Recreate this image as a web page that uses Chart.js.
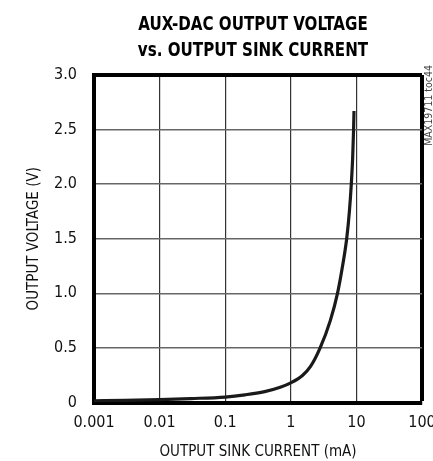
<!DOCTYPE html>
<html>
<head>
<meta charset="utf-8">
<script src="https://cdn.jsdelivr.net/npm/chart.js@4/dist/chart.umd.min.js"></script>
<style>
  html, body { margin: 0; padding: 0; background: #fff; }
  #wrap { width: 433px; height: 461px; position: relative; }
  #c { position: absolute; left: 0; top: 0; }
  .tl {
    position: absolute; left: 103px; width: 300px; height: 26px; line-height: 26px;
    text-align: center; white-space: nowrap;
    font-family: "DejaVu Sans Condensed", "Liberation Sans Narrow", sans-serif;
    font-weight: bold; font-size: 20px; color: #000;
    transform: scaleX(0.84); transform-origin: 50% 50%;
  }
</style>
</head>
<body>
<div id="wrap">
  <canvas id="c" width="433" height="461"></canvas>
  <div class="tl" id="t1" style="top:9.5px"></div>
  <div class="tl" id="t2" style="top:35.5px"></div>
</div>
<script>
// ---- data ----
const titleLines = ['AUX-DAC OUTPUT VOLTAGE', 'vs. OUTPUT SINK CURRENT'];
const xAxisTitle = 'OUTPUT SINK CURRENT (mA)';
const yAxisTitle = 'OUTPUT VOLTAGE (V)';
const sideNote = 'MAX19711 toc44';

const sinkCurrent_mA = [0.001, 0.003, 0.01, 0.03, 0.1, 0.2, 0.4, 0.69, 1, 1.52, 2, 2.8, 4.0, 5.15, 6.15, 7.11, 7.82, 8.36, 8.78, 9.06, 9.19];
const outputVoltage_V = [0.015, 0.02, 0.027, 0.036, 0.05, 0.07, 0.1, 0.14, 0.18, 0.25, 0.33, 0.5, 0.75, 1.0, 1.25, 1.5, 1.75, 2.0, 2.25, 2.5, 2.67];

const xTickValues = [0.001, 0.01, 0.1, 1, 10, 100];
const xTickLabels = ['0.001', '0.01', '0.1', '1', '10', '100'];
const yTickValues = [0, 0.5, 1.0, 1.5, 2.0, 2.5, 3.0];
const yTickLabels = ['0', '0.5', '1.0', '1.5', '2.0', '2.5', '3.0'];

document.getElementById('t1').textContent = titleLines[0];
document.getElementById('t2').textContent = titleLines[1];

const FONT = '"DejaVu Sans Condensed", "Liberation Sans Narrow", sans-serif';

const points = sinkCurrent_mA.map((x, i) => ({ x: x, y: outputVoltage_V[i] }));

const sideNotePlugin = {
  id: 'sideNote',
  afterDraw(chart) {
    const ctx = chart.ctx;
    ctx.save();
    ctx.translate(429.5, 65);
    ctx.rotate(-Math.PI / 2);
    ctx.font = '10.5px ' + FONT;
    ctx.fillStyle = '#444';
    ctx.textAlign = 'right';
    ctx.textBaseline = 'middle';
    ctx.fillText(sideNote, 0, 0);
    ctx.restore();
  }
};

new Chart(document.getElementById('c'), {
  type: 'line',
  data: {
    datasets: [{
      data: points,
      borderColor: '#1a1a1a',
      borderWidth: 3.2,
      pointRadius: 0,
      fill: false,
      cubicInterpolationMode: 'monotone'
    }]
  },
  options: {
    responsive: false,
    animation: false,
    events: [],
    layout: { padding: { left: 0, right: 11, top: 75, bottom: 0 } },
    plugins: {
      legend: { display: false },
      tooltip: { enabled: false },
      title: { display: false }
    },
    scales: {
      x: {
        type: 'logarithmic',
        min: 0.001,
        max: 100,
        afterBuildTicks(scale) { scale.ticks = xTickValues.map(v => ({ value: v })); },
        afterFit(scale) { scale.height = 58.5; scale.paddingLeft = 0; scale.paddingRight = 0; },
        ticks: {
          autoSkip: false,
          maxRotation: 0,
          color: '#111',
          padding: 11,
          font: { family: FONT, size: 16 },
          callback: (v, i) => xTickLabels[i]
        },
        grid: {
          drawTicks: false,
          color: (c) => (c.index === xTickValues.length - 1 ? '#000' : '#333'),
          lineWidth: (c) => (c.index === xTickValues.length - 1 ? 4 : 1.2)
        },
        border: { display: true, color: '#000', width: 4 },
        title: {
          display: true,
          text: xAxisTitle,
          color: '#111',
          font: { family: FONT, size: 15, lineHeight: 1.2 },
          padding: { top: 0, bottom: 0 }
        }
      },
      y: {
        type: 'linear',
        min: 0,
        max: 3,
        afterBuildTicks(scale) { scale.ticks = yTickValues.map(v => ({ value: v })); },
        afterFit(scale) { scale.width = 94; },
        ticks: {
          color: '#111',
          padding: 17,
          font: { family: FONT, size: 16 },
          callback: (v, i) => yTickLabels[i]
        },
        grid: {
          drawTicks: false,
          color: (c) => (c.index === yTickValues.length - 1 ? '#000' : '#666'),
          lineWidth: (c) => (c.index === yTickValues.length - 1 ? 4 : 1.5)
        },
        border: { display: true, color: '#000', width: 4 },
        title: {
          display: true,
          text: yAxisTitle,
          color: '#111',
          font: { family: FONT, size: 15, lineHeight: 1.2 },
          padding: { top: 25, bottom: 0 }
        }
      }
    }
  },
  plugins: [sideNotePlugin]
});
</script>
</body>
</html>
